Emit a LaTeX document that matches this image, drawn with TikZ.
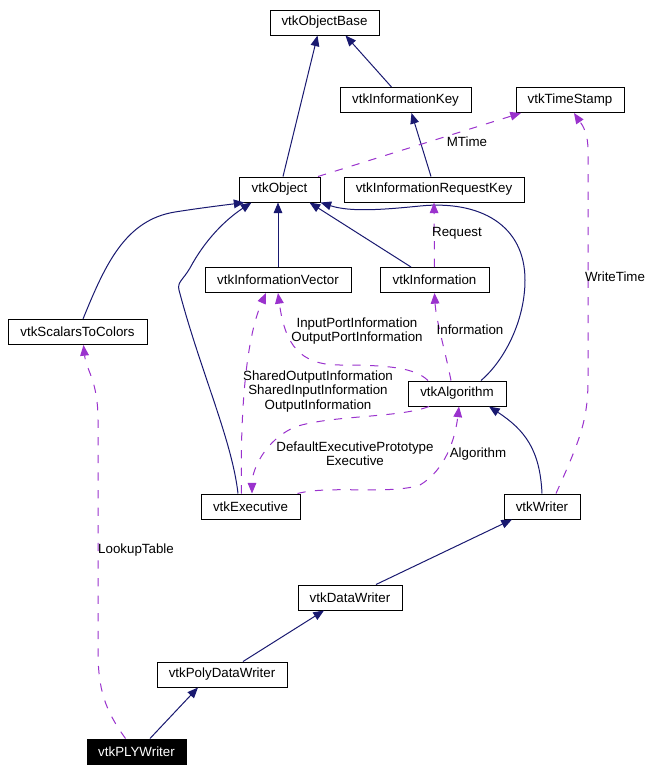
\documentclass[tikz,border=0pt]{standalone}
\usepackage{fontspec}
\setmainfont{Liberation Sans}
\usetikzlibrary{arrows.meta}
\definecolor{inh}{HTML}{191970}
\definecolor{use}{HTML}{9A32CD}
\begin{document}
\begin{tikzpicture}[x=0.75pt,y=-0.75pt,
  box/.style={draw=black,line width=0.75pt,fill=white,inner sep=0pt,minimum height=25*0.75pt,font=\fontsize{10}{11}\selectfont,text=black},
  dx/.style={xshift=#1*0.75pt},
  inhline/.style={draw=inh,line width=0.75pt,-{Triangle[length=8pt,width=6.5pt]}},
  useline/.style={draw=use,line width=0.75pt,dash pattern=on 6.2pt off 7pt,-{Triangle[length=8pt,width=6.5pt]}},
  lbl/.style={font=\fontsize{10}{10.8}\selectfont,align=center,inner sep=0pt,text=black}]
\useasboundingbox (0,0) rectangle (655,772);
% nodes
\node[box,minimum width=109*0.75pt] (ob) at (324.5,22.5) {vtkObjectBase};
\node[box,minimum width=131*0.75pt] (ik) at (405.5,100) {vtkInformationKey};
\node[box,minimum width=108*0.75pt] (ts) at (570,100) {vtkTimeStamp};
\node[box,minimum width=81*0.75pt] (o) at (279.5,189.5) {vtkObject};
\node[box,minimum width=180*0.75pt] (irk) at (434,189.5) {vtkInformationRequestKey};
\node[box,minimum width=146*0.75pt] (iv) at (278,280) {vtkInformationVector};
\node[box,minimum width=109*0.75pt] (inf) at (434.5,280) {vtkInformation};
\node[box,minimum width=139*0.75pt] (stc) at (77.5,332) {vtkScalarsToColors};
\node[box,minimum width=98*0.75pt] (alg) at (457,393.5) {vtkAlgorithm};
\node[box,minimum width=99*0.75pt] (ex) at (250.5,506.5) {vtkExecutive};
\node[box,minimum width=76*0.75pt] (wr) at (542,506.5) {vtkWriter};
\node[box,minimum width=104*0.75pt] (dw) at (350,597.5) {vtkDataWriter};
\node[box,minimum width=130*0.75pt] (pdw) at (222,674.5) {vtkPolyDataWriter};
\node[box,minimum width=99*0.75pt,fill=black,text=white] (ply) at (136.5,751.5) {vtkPLYWriter};
% inheritance
\draw[inhline] ([dx=3.5]o.north) -- ([dx=-7]ob.south);
\draw[inhline] ([dx=-14]ik.north) -- ([dx=21]ob.south);
\draw[inhline] ([dx=-3]irk.north) -- ([dx=6]ik.south);
\draw[inhline] ([dx=5.5]stc.north) .. controls (105,265) and (125,220) .. (175,212) .. controls (200,208) and (225,205) .. ([dx=-35]o.south);
\draw[inhline] ([dx=-12.5]ex.north) .. controls (232,440) and (200,370) .. (179,290) .. controls (177,282) and (183,280) .. (190,268) .. controls (205,240) and (225,220) .. ([dx=-28]o.south);
\draw[inhline] (iv.north) -- ([dx=-1.5]o.south);
\draw[inhline] ([dx=-23.5]inf.north) -- ([dx=30]o.south);
\draw[inhline] ([dx=24]alg.north) .. controls (505,360) and (525,320) .. (525,280) .. controls (525,225) and (480,200) .. (420,206) .. controls (380,210) and (350,212) .. (o.south east);
\draw[inhline] (wr.north) .. controls (540,450) and (525,430) .. ([dx=32]alg.south);
\draw[inhline] ([dx=26]dw.north) -- ([dx=-30]wr.south);
\draw[inhline] ([dx=21]pdw.north) -- ([dx=-26]dw.south);
\draw[inhline] ([dx=13.5]ply.north) -- ([dx=-24]pdw.south);
% usage
\draw[useline] ([dx=38.5]o.north) -- ([dx=-49]ts.south);
\node[lbl] (lmt) at (467,142) {MTime};
\draw[useline] (inf.north) -- (irk.south);
\node[lbl] (lrq) at (457,233) {Request};
\draw[useline] ([dx=14]wr.north) .. controls (580,440) and (588,420) .. (588,380) -- (588,150) .. controls (588,130) and (580,122) .. ([dx=4]ts.south);
\node[lbl] (lwt) at (615,277) {WriteTime};
\draw[useline] ([dx=-11]ply.north) .. controls (105,710) and (98,690) .. (98,650) -- (98,420) .. controls (98,380) and (86,370) .. ([dx=6]stc.south);
\node[lbl] (llt) at (136,550) {LookupTable};
\draw[useline] ([dx=-6]alg.north) .. controls (445,350) and (436,320) .. (inf.south);
\node[lbl] (lin) at (470,330) {Information};
\draw[useline] ([dx=-29]alg.north) .. controls (415,368) and (390,365) .. (340,365) .. controls (300,365) and (285,345) .. (iv.south);
\node[lbl] (lio) at (357,331) {InputPortInformation\\OutputPortInformation};
\draw[useline] ([dx=-9]ex.north) .. controls (240,420) and (245,340) .. ([dx=-12]iv.south);
\node[lbl] (lsh) at (318,391.5) {SharedOutputInformation\\SharedInputInformation\\OutputInformation};
\draw[useline] ([dx=-28]alg.south) .. controls (400,418) and (330,415) .. (295,427) .. controls (265,440) and (252,470) .. ([dx=1.5]ex.north);
\node[lbl] (lde) at (355,454) {DefaultExecutivePrototype\\Executive};
\draw[useline] ([dx=47]ex.north) .. controls (330,485) and (390,495) .. (420,485) .. controls (445,470) and (455,440) .. ([dx=2]alg.south);
\node[lbl] (lal) at (478,454) {Algorithm};
\end{tikzpicture}
\end{document}
